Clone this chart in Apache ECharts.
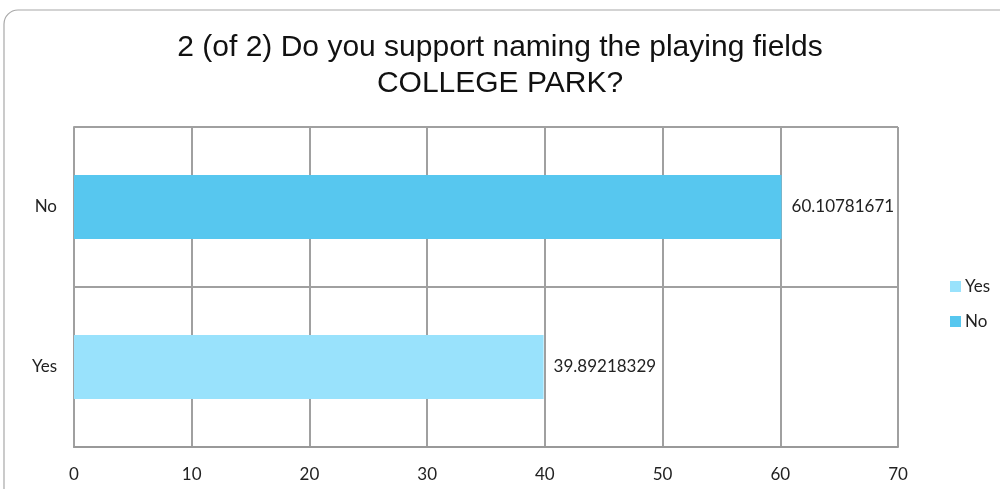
<!DOCTYPE html>
<html>
<head>
<meta charset="utf-8">
<script src="https://cdn.jsdelivr.net/npm/echarts@6/dist/echarts.min.js"></script>
<style>
  html, body { margin: 0; padding: 0; background: #fff; }
  #main { width: 1000px; height: 489px; }
</style>
</head>
<body>
<div id="main"></div>
<script>
// categories bottom to top
var categories = ['Yes', 'No']
var seriesNames = ['Yes', 'No']
var yesValues = [39.89218329, '-']
var noValues = ['-', 60.10781671]
var xTicks = [0, 10, 20, 30, 40, 50, 60, 70]

var chart = echarts.init(document.getElementById('main'))

var labelStyle = {
  show: true,
  position: 'right',
  distance: 10,
  color: '#222',
  fontFamily: 'Lato',
  fontSize: 17
}

var option = {
  animation: false,
  title: {
    text: '2 (of 2) Do you support naming the playing fields\nCOLLEGE PARK?',
    left: 'center',
    top: 25,
    textStyle: {
      fontFamily: 'Liberation Sans',
      fontWeight: 'normal',
      fontSize: 30,
      lineHeight: 36,
      color: '#111'
    }
  },
  graphic: [{
    type: 'rect',
    shape: { x: 4, y: 10, width: 1020, height: 500, r: 14 },
    style: { fill: 'none', stroke: '#a8a8a8', lineWidth: 1.2 },
    silent: true
  }],
  legend: {
    orient: 'vertical',
    left: 945,
    top: 273,
    itemWidth: 11,
    itemHeight: 11,
    itemGap: 18,
    icon: 'rect',
    data: seriesNames,
    textStyle: { fontFamily: 'Lato', fontSize: 17, color: '#222', padding: [0, 0, 0, -1] }
  },
  grid: {
    left: 74,
    right: 102,
    top: 127,
    height: 320
  },
  xAxis: {
    type: 'value',
    min: xTicks[0],
    max: xTicks[xTicks.length - 1],
    interval: 10,
    axisLine: { show: true, lineStyle: { color: '#999', width: 2 } },
    axisTick: { show: false },
    axisLabel: { margin: 19, color: '#222', fontFamily: 'Lato', fontSize: 17 },
    splitLine: { show: true, lineStyle: { color: '#a0a0a0', width: 2 } }
  },
  yAxis: {
    type: 'category',
    data: categories,
    axisLine: { show: true, lineStyle: { color: '#a0a0a0', width: 2 } },
    axisTick: { show: false },
    axisLabel: { margin: 17, color: '#222', fontFamily: 'Lato', fontSize: 17 },
    splitLine: { show: true, lineStyle: { color: '#a0a0a0', width: 2 } }
  },
  series: [
    {
      name: seriesNames[0],
      type: 'bar',
      stack: 'all',
      barCategoryGap: '60%',
      data: yesValues,
      itemStyle: { color: '#99e2fc' },
      label: labelStyle
    },
    {
      name: seriesNames[1],
      type: 'bar',
      stack: 'all',
      barCategoryGap: '60%',
      data: noValues,
      itemStyle: { color: '#57c7ef' },
      label: labelStyle
    }
  ]
}

chart.setOption(option)
</script>
</body>
</html>
